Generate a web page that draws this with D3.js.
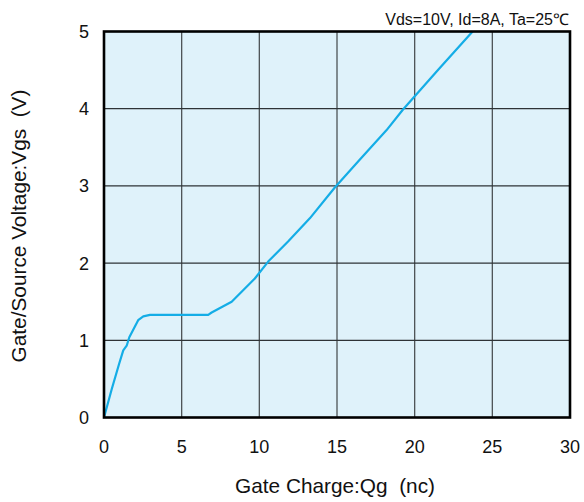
<!DOCTYPE html>
<html>
<head>
<meta charset="utf-8">
<script src="https://cdn.jsdelivr.net/npm/d3@7"></script>
<style>
  body { margin: 0; background: #fff; }
  svg text { font-family: "Liberation Sans", Arial, sans-serif; fill: #111; }
</style>
</head>
<body>
<svg id="chart" width="584" height="502"></svg>
<script>
'use strict';

// gate charge (nC) vs gate/source voltage (V)
const qg  = [0, 0.5, 0.98, 1.24, 1.46, 1.63, 2.2, 2.53, 2.96, 6.71, 6.93, 7.68, 8.22,
             9.71, 10.57, 11.85, 13.25, 14.86, 16.46, 18.18, 19.25, 21.5, 23.73];
const vgs = [0, 0.37, 0.70, 0.87, 0.93, 1.04, 1.26, 1.31, 1.33, 1.33, 1.36, 1.44, 1.50,
             1.80, 2.02, 2.28, 2.58, 2.98, 3.34, 3.72, 3.99, 4.5, 5.0];

const xTicks = [0, 5, 10, 15, 20, 25, 30];
const yTicks = [0, 1, 2, 3, 4, 5];

const condition = 'Vds=10V, Id=8A, Ta=25\u2103';
const xTitle = 'Gate Charge:Qg\u00a0\u00a0(nc)';
const yTitle = 'Gate/Source Voltage:Vgs\u00a0\u00a0(V)';

const svg = d3.select('#chart');

const x = d3.scaleLinear().domain([0, 30]).range([104, 570]);
const y = d3.scaleLinear().domain([0, 5]).range([417.5, 31.5]);

// plot background
svg.append('rect')
    .attr('x', x(0)).attr('y', y(5))
    .attr('width', x(30) - x(0)).attr('height', y(0) - y(5))
    .attr('fill', '#dff2fa');

// grid
svg.append('g').selectAll('line')
    .data(xTicks.slice(1, -1))
    .join('line')
    .attr('x1', d => x(d)).attr('x2', d => x(d))
    .attr('y1', y(5)).attr('y2', y(0))
    .attr('stroke', '#4d5356').attr('stroke-width', 1.3);

svg.append('g').selectAll('line')
    .data(yTicks.slice(1, -1))
    .join('line')
    .attr('x1', x(0)).attr('x2', x(30))
    .attr('y1', d => y(d)).attr('y2', d => y(d))
    .attr('stroke', '#2e3336').attr('stroke-width', 1.3);

// curve
const line = d3.line()
    .x(d => x(d[0]))
    .y(d => y(d[1]));

svg.append('path')
    .datum(d3.zip(qg, vgs))
    .attr('d', line)
    .attr('fill', 'none')
    .attr('stroke', '#14ade6')
    .attr('stroke-width', 2.2)
    .attr('stroke-linejoin', 'round');

// frame
svg.append('rect')
    .attr('x', x(0)).attr('y', y(5))
    .attr('width', x(30) - x(0)).attr('height', y(0) - y(5))
    .attr('fill', 'none')
    .attr('stroke', '#000').attr('stroke-width', 2.6);

// tick labels
svg.append('g').selectAll('text')
    .data(xTicks)
    .join('text')
    .attr('x', d => x(d)).attr('y', 453)
    .attr('text-anchor', 'middle')
    .attr('font-size', 18)
    .text(d => d);

svg.append('g').selectAll('text')
    .data(yTicks)
    .join('text')
    .attr('x', 89).attr('y', d => y(d) + 6.5)
    .attr('text-anchor', 'end')
    .attr('font-size', 18)
    .text(d => d);

// titles
svg.append('text')
    .attr('x', 335).attr('y', 493)
    .attr('text-anchor', 'middle')
    .attr('font-size', 20.8)
    .text(xTitle);

svg.append('text')
    .attr('transform', 'translate(26,226) rotate(-90)')
    .attr('text-anchor', 'middle')
    .attr('font-size', 20.8)
    .text(yTitle);

svg.append('text')
    .attr('x', 569).attr('y', 25)
    .attr('text-anchor', 'end')
    .attr('font-size', 16)
    .text(condition);
</script>
</body>
</html>
